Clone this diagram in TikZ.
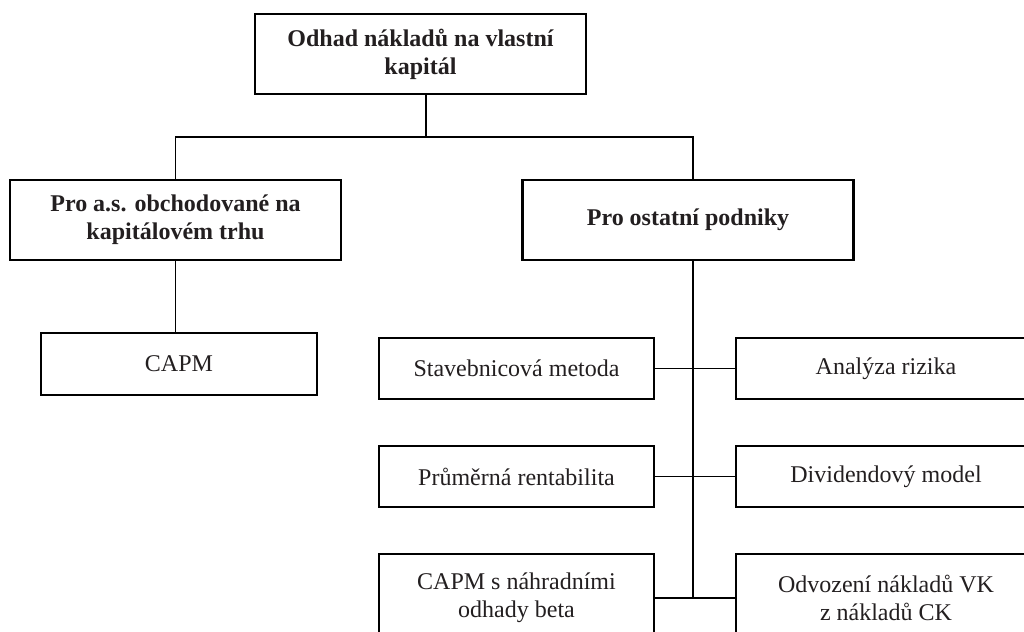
\documentclass[tikz,border=0pt]{standalone}
\usepackage{fontspec}
\setmainfont{Liberation Serif}
\usepackage{xcolor}
\usepackage{tikz}
\usetikzlibrary{positioning, calc}
\definecolor{inkgray}{RGB}{35,31,32}

\begin{document}
\begin{tikzpicture}[
  x=0.5pt, y=-0.5pt,
  box/.style={rectangle, draw=black, line width=1.15pt, fill=white, align=center,
              font=\fontsize{12}{14}\selectfont, text=inkgray, inner sep=2pt},
  head/.style={box, font=\fontsize{12}{14}\selectfont\bfseries,
               minimum width=165.5pt, minimum height=40pt},
  item/.style={box, minimum width=137.5pt, minimum height=30.5pt},
  wide/.style={box, minimum width=150pt, minimum height=30.5pt},
  conn/.style={draw=black, line width=0.9pt},
]
  \useasboundingbox (0,0) rectangle (1024,632);
  \clip (0,0) rectangle (1024,632);

  \node[head] (odhad) at (420.5,54) {Odhad nákladů na vlastní\\kapitál};
  \node[head] (proas) at (175.5,220) {Pro a.s. obchodované na\\kapitálovém trhu};
  \node[head] (proost) at (688,220) {Pro ostatní podniky};

  \node[item, minimum width=138pt, minimum height=31pt] (capm) at (179,364) {CAPM};

  \node[item] (stav) at (516.5,368.5) {Stavebnicová metoda};
  \node[wide] (analyza) at (886,368.5) {Analýza rizika};
  \node[item] (prumer) at (516.5,476.5) {Průměrná rentabilita};
  \node[wide] (divid) at (886,476.5) {Dividendový model};
  \node[item, minimum height=44pt] (capmbeta) at (516.5,598) {CAPM s náhradními\\odhady beta};
  \node[wide, minimum height=44pt] (odvoz) at (886,598) {Odvození nákladů VK\\z nákladů CK};

  \coordinate (split) at ($(odhad.south)+(5.5,42)$);
  \coordinate (spine) at ($(proost.south)+(5,0)$);

  \draw[conn] ([xshift=2.75pt]odhad.south) -- (split);
  \draw[conn] (split) -| (proas.north);
  \draw[conn] (split) -| ([xshift=2.5pt]proost.north);
  \draw[conn] (proas.south) -- (proas.south |- capm.north);
  \draw[conn] (spine) -- (spine |- capmbeta.east);
  \draw[conn] (stav.east) -- (analyza.west);
  \draw[conn] (prumer.east) -- (divid.west);
  \draw[conn] (capmbeta.east) -- (odvoz.west);
\end{tikzpicture}
\end{document}
